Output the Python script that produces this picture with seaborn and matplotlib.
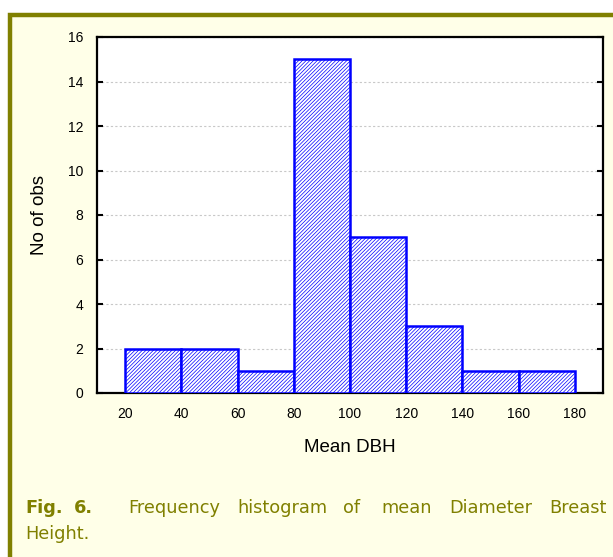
import numpy as np
import pandas as pd
import matplotlib
matplotlib.use("Agg")
import matplotlib.pyplot as plt
import seaborn as sns
from matplotlib.patches import Rectangle

# Histogram data
bin_edges = [20, 40, 60, 80, 100, 120, 140, 160, 180]
counts = [2, 2, 1, 15, 7, 3, 1, 1]
x_ticks = [20, 40, 60, 80, 100, 120, 140, 160, 180]
y_ticks = [0, 2, 4, 6, 8, 10, 12, 14, 16]

caption_bold = ["Fig.", "6."]
caption_words = ["Frequency", "histogram", "of", "mean", "Diameter", "Breast"]
caption_tail = "Height."

OLIVE = "#808000"
PANEL = "#FFFFE8"

sns.set_style("white")
plt.rcParams["font.family"] = ["Liberation Sans", "DejaVu Sans"]
plt.rcParams["hatch.color"] = "#0000FF"
plt.rcParams["hatch.linewidth"] = 0.5

df = pd.DataFrame({
    "left": bin_edges[:-1],
    "count": counts,
})
df["mid"] = df["left"] + 10

fig = plt.figure(figsize=(6.13, 5.57), dpi=100, facecolor="white")

# olive framed panel behind everything
W, H = 613.0, 557.0
fig.patches.append(Rectangle((10 / W, -0.2), 1.5, 0.2 + (H - 15) / H,
                             transform=fig.transFigure, facecolor=PANEL,
                             edgecolor=OLIVE, linewidth=3.2, zorder=-10))

ax = fig.add_axes([97 / W, (H - 393) / H, 506 / W, 356 / H])
ax.set_facecolor("white")

sns.histplot(data=df, x="mid", weights="count", bins=bin_edges, ax=ax,
             stat="count", fill=True, color="white", edgecolor="#0000FF",
             linewidth=1.8, alpha=1)
for p in ax.patches:
    p.set_facecolor("white")
    p.set_hatch("/////////")
    p.set_zorder(3)

ax.set_xlim(10, 190)
ax.set_ylim(0, 16)
ax.set_xticks(x_ticks)
ax.set_yticks(y_ticks)
ax.tick_params(axis="x", length=0, pad=10, labelsize=10, labelcolor="black")
ax.tick_params(axis="y", direction="in", length=4, width=1.5, pad=10,
               labelsize=10, left=True, right=True, labelcolor="black",
               color="black")
ax.yaxis.grid(True, linestyle=(0, (2, 2)), color="#c8c8c8", linewidth=0.8)
ax.set_axisbelow(True)
for s in ax.spines.values():
    s.set_visible(True)
    s.set_color("black")
    s.set_linewidth(1.6)

ax.set_xlabel("Mean DBH", fontsize=13.5, color="black")
ax.set_ylabel("No of obs", fontsize=13.5, color="black")
ax.xaxis.set_label_coords(0.5, -(448 - 393) / 356, transform=ax.transAxes)
ax.xaxis.label.set_va("center")
ax.yaxis.set_label_coords(-(97 - 39) / 506, 0.5, transform=ax.transAxes)
ax.yaxis.label.set_va("center")

# caption, justified across the panel
cap_font = ["DejaVu Sans"]
for bx, b in zip([25, 74], caption_bold):
    fig.text(bx / W, 1 - 508 / H, b, fontsize=12.8, fontweight="bold",
             color=OLIVE, va="center", ha="left", family=cap_font)
word_x = [128, 237, 343, 381, 449, 549]
for wx, w in zip(word_x, caption_words):
    fig.text(wx / W, 1 - 508 / H, w, fontsize=12.8, color=OLIVE,
             va="center", ha="left", family=cap_font)
fig.text(25 / W, 1 - 534 / H, caption_tail, fontsize=12.8, color=OLIVE,
         va="center", ha="left", family=cap_font)

fig.savefig("out.png", dpi=100, facecolor="white")
